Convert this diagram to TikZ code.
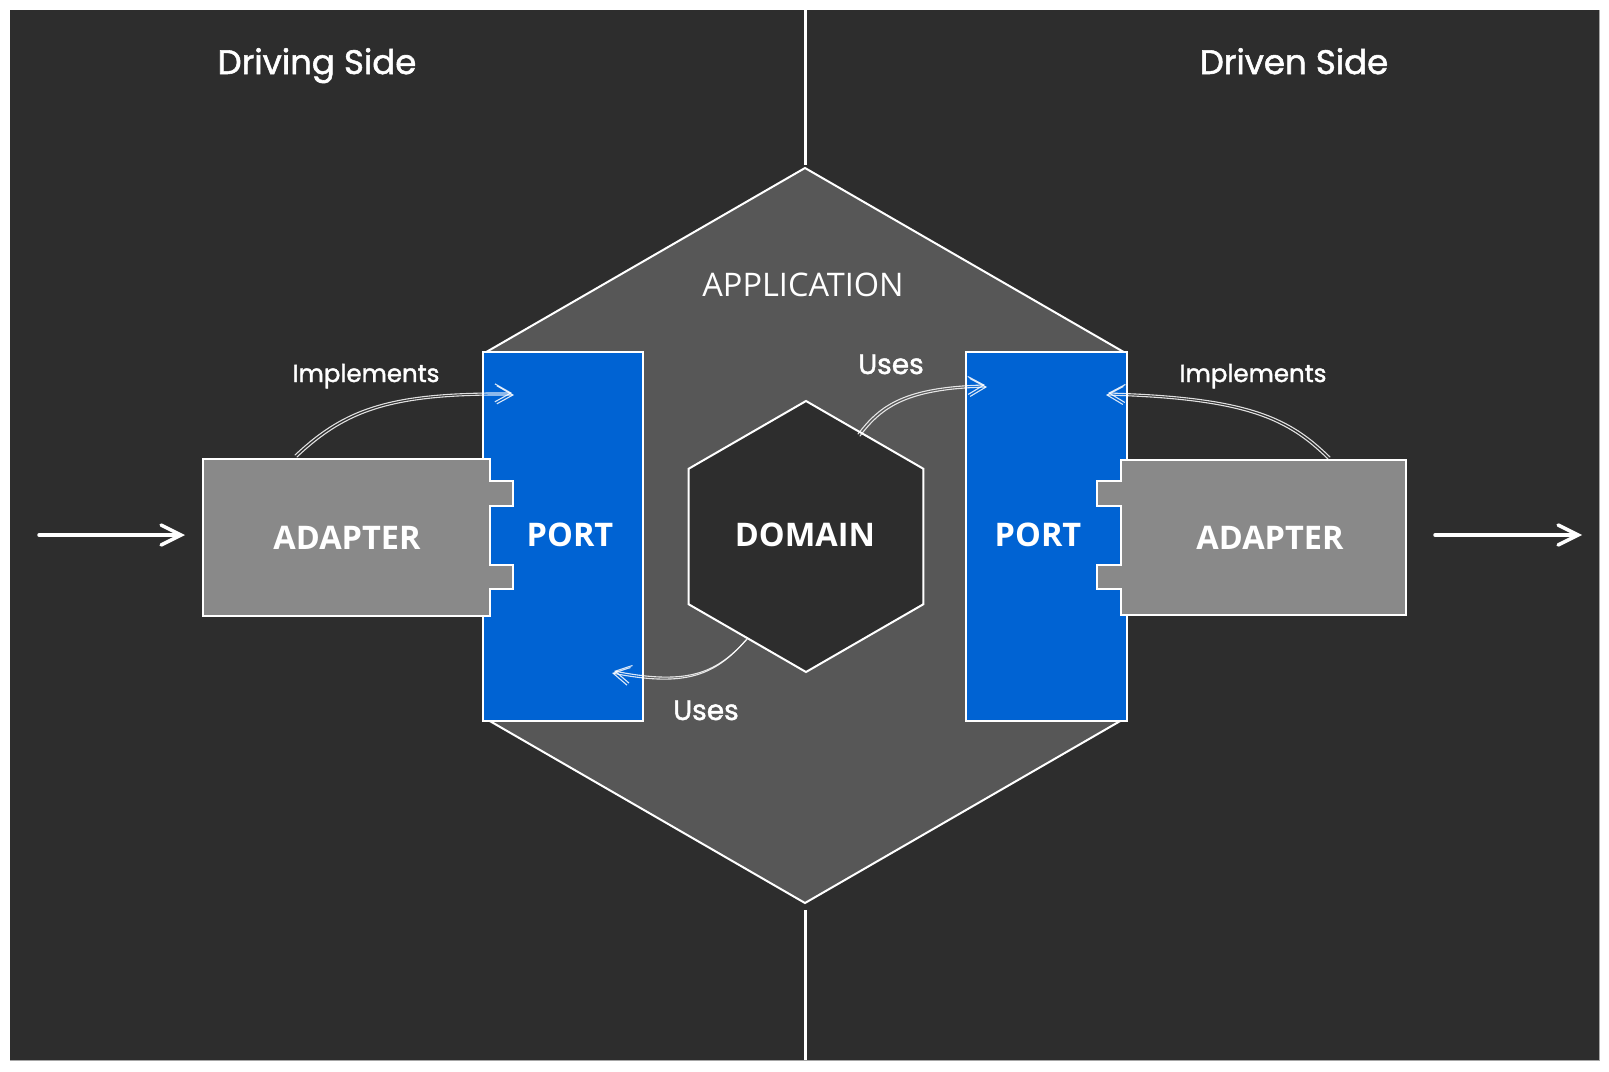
\documentclass[tikz,border=0pt]{standalone}
\usepackage{fontspec}
\setmainfont{Open Sans}
\newfontfamily\handfont[FakeBold=1.6]{Poppins}
\usetikzlibrary{shapes.geometric,arrows.meta}
\definecolor{bgdark}{HTML}{2D2D2D}
\definecolor{appgray}{HTML}{575757}
\definecolor{portblue}{HTML}{0063D3}
\definecolor{adgray}{HTML}{898989}
\begin{document}
\begin{tikzpicture}[x=1pt,y=-1pt,
  hexbox/.style={regular polygon, regular polygon sides=6, shape border rotate=90,
    draw=white, line width=2pt, inner sep=0pt},
  portbox/.style={rectangle, fill=portblue, draw=white, line width=2pt, inner sep=0pt},
  adbox/.style={fill=adgray, draw=white, line width=2pt},
  bigtxt/.style={text=white, font=\fontsize{32.5}{38}\selectfont\bfseries, inner sep=0pt},
  apptxt/.style={text=white, font=\fontsize{32.5}{38}\selectfont, inner sep=0pt},
  handtxt/.style={text=white, font=\handfont\fontsize{#1}{#1}\selectfont, inner sep=0pt, anchor=base},
  sideline/.style={draw=white, line width=3pt},
  conn/.style={draw=white, line width=1.1pt, opacity=0.85, line cap=round,
    -{Straight Barb[length=16pt,width=18pt]}},
  ghost/.style={transform canvas={xshift=2pt,yshift=-2pt}},
  sidearrow/.style={draw=white, line width=3.5pt, line cap=round,
    -{Straight Barb[length=20pt,width=20pt,line cap=round]}}
]
\useasboundingbox (0,0) rectangle (1609,1071);
\fill[white] (0,0) rectangle (1609,1071);
\fill[bgdark] (10,10) rectangle (1599,1060);
\draw[gray!70, line width=1pt] (1599,10) -- (1599,1060) -- (10,1060);

% vertical separators
\coordinate (vt1) at (805,10);
\coordinate (vt2) at (805,165);
\coordinate (vb1) at (805,910);
\coordinate (vb2) at (805,1060);
\draw[sideline] (vt1) -- (vt2);
\draw[sideline] (vb1) -- (vb2);

% application hexagon
\node[hexbox, fill=appgray, minimum size=735pt] (app) at (805,535.5) {};
\node[apptxt] (applbl) at (803,285) {APPLICATION};

% domain hexagon
\node[hexbox, fill=bgdark, minimum size=271pt] (domain) at (806,536.5) {};
\node[bigtxt] (domlbl) at (805,534.5) {DOMAIN};

% ports
\node[portbox, minimum width=160pt, minimum height=369pt] (lport) at (563,536.5) {};
\node[portbox, minimum width=161pt, minimum height=369pt] (rport) at (1046.5,536.5) {};
\node[bigtxt] (lportlbl) at (570,535) {PORT};
\node[bigtxt] (rportlbl) at (1038,535) {PORT};

% adapters
\draw[adbox] (203,459) -- (490,459) -- (490,481) -- (513,481) -- (513,506) -- (490,506)
  -- (490,565) -- (513,565) -- (513,589) -- (490,589) -- (490,616) -- (203,616) -- cycle;
\draw[adbox] (1406,460) -- (1121,460) -- (1121,481) -- (1097,481) -- (1097,506) -- (1121,506)
  -- (1121,565) -- (1097,565) -- (1097,589) -- (1121,589) -- (1121,615) -- (1406,615) -- cycle;
\node[bigtxt] (ladapter) at (347,537.5) {ADAPTER};
\node[bigtxt] (radapter) at (1270,537.5) {ADAPTER};

% connectors
\coordinate (li1) at (295,455);
\coordinate (li2) at (512,393);
\coordinate (ri1) at (1330,457);
\coordinate (ri2) at (1108,393);
\coordinate (ut1) at (858,434);
\coordinate (ut2) at (985,385);
\coordinate (ub1) at (748,638);
\coordinate (ub2) at (614,671);

\draw[conn] (li1) .. controls (345,408) and (390,392) .. (li2);
\draw[conn, ghost] (li1) .. controls (345,408) and (390,392) .. (li2);
\draw[conn] (ri1) .. controls (1290,418) and (1250,397) .. (ri2);
\draw[conn, transform canvas={xshift=-2pt,yshift=-2pt}] (ri1) .. controls (1290,418) and (1250,397) .. (ri2);
\draw[conn] (ut1) .. controls (880,405) and (905,387) .. (ut2);
\draw[conn, ghost] (ut1) .. controls (880,405) and (905,387) .. (ut2);
\draw[conn] (ub1) .. controls (718,672) and (690,686) .. (ub2);
\draw[conn, transform canvas={xshift=-2pt,yshift=-2pt}] (ub1) .. controls (718,672) and (690,686) .. (ub2);

% handwritten labels
\node[handtxt=34] (driving) at (317,74) {Driving Side};
\node[handtxt=34] (driven) at (1294,74) {Driven Side};
\node[handtxt=24.5] (limpl) at (366,382) {Implements};
\node[handtxt=24.5] (rimpl) at (1253,382) {Implements};
\node[handtxt=28] (uses1) at (891,374) {Uses};
\node[handtxt=28] (uses2) at (706,720) {Uses};

% side arrows
\coordinate (inL) at (39,535);
\coordinate (inR) at (185,535);
\coordinate (outL) at (1435,535);
\coordinate (outR) at (1582,535);
\draw[sidearrow] (inL) -- (inR);
\draw[sidearrow] (outL) -- (outR);
\end{tikzpicture}
\end{document}
